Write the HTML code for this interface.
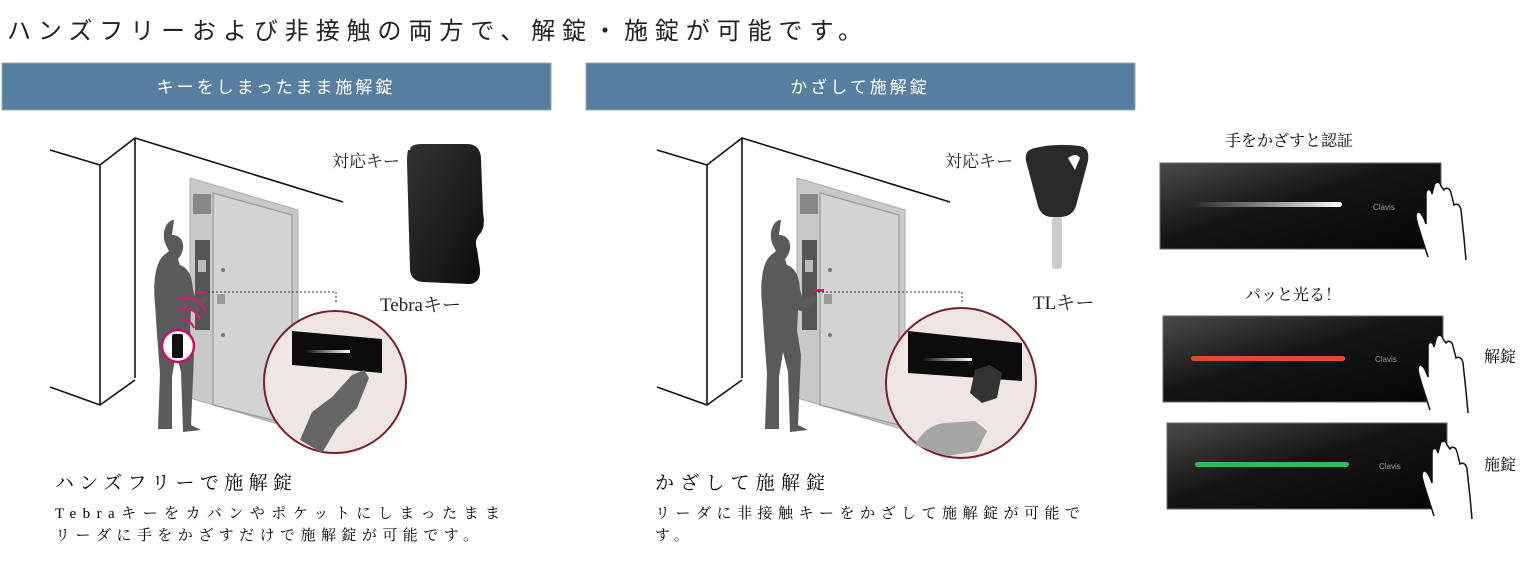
<!DOCTYPE html>
<html><head><meta charset="utf-8"><style>
html,body{margin:0;padding:0;background:#fff}
body{width:1524px;height:576px;overflow:hidden;position:relative;font-family:"Liberation Serif","Noto Serif CJK SC","Noto Sans CJK JP",serif;color:#222}
</style></head><body>
<svg width="1524" height="576" style="position:absolute;left:0;top:0" font-family="'Liberation Serif','Noto Serif CJK SC',serif">
<defs>
<linearGradient id="pg" x1="0" y1="0" x2="1" y2="1">
<stop offset="0" stop-color="#4a4a48"/><stop offset="0.45" stop-color="#151515"/><stop offset="1" stop-color="#050505"/></linearGradient>
<linearGradient id="wl" x1="0" x2="1"><stop offset="0" stop-color="#fff" stop-opacity="0"/><stop offset="1" stop-color="#fff"/></linearGradient>
<linearGradient id="kg" x1="0" y1="0" x2="1" y2="1"><stop offset="0" stop-color="#333"/><stop offset="1" stop-color="#0c0c0c"/></linearGradient>
<g id="scene">
<g stroke="#111" stroke-width="1.6" fill="none">
<polyline points="50,150 100,165 135,138 343,202"/>
<line x1="100" y1="165" x2="100" y2="405"/>
<line x1="135" y1="138" x2="135" y2="378"/>
<polyline points="50,387 100,405 135,380"/>
</g>
<polygon points="190,178 298,210 298,430 190,398" fill="#c9c9c9" stroke="#aaa"/>
<polygon points="213,193 292,215 292,425 213,405" fill="#d3d3d3" stroke="#999" stroke-width="1.2"/>
<rect x="193" y="194" width="18" height="20" fill="#888"/>
<rect x="195" y="240" width="15" height="90" fill="#555"/>
<rect x="198" y="260" width="8" height="12" fill="#bbb"/>
<rect x="217" y="294" width="8" height="10" fill="#999"/>
<circle cx="223" cy="270" r="2" fill="#777"/><circle cx="223" cy="335" r="2" fill="#777"/>
<path d="M172,235 c8,0 12,6 11,14 c-1,5 -3,8 -5,10 l2,6 c8,3 12,10 13,25 l3,10 l10,-5 l3,5 l-12,12 l-6,-2 l-1,20 l4,25 l-3,70 l10,5 l-18,2 l-2,-60 l-5,-20 l-4,25 l0,52 l-14,0 l2,-55 l-3,-40 l-2,-30 c-2,-20 0,-40 8,-48 l6,-5 c-3,-6 -6,-10 -5,-18 c1,-8 5,-13 10,-13 z" fill="#5a5a5a"/>
</g>
<g id="hand" fill="#fff" stroke="#111" stroke-width="1.5">
<path d="M0,0 l-8,-25 c-3,-10 -6,-18 -2,-20 c3,0 6,6 8,12 l0,-30 c0,-6 5,-6 6,0 l2,-8 c1,-5 6,-5 7,0 l3,4 c2,-3 6,-2 7,3 l3,12 c3,-2 6,0 7,5 l3,28 l2,22"/>
</g>
</defs>
<text x="7" y="39" font-size="24" textLength="855" lengthAdjust="spacing" fill="#222" font-family="'Liberation Sans','Noto Sans CJK JP',sans-serif">ハンズフリーおよび非接触の両方で、解錠・施錠が可能です。</text>
<rect x="2" y="63" width="549" height="47" fill="#577f9f" stroke="#9ab" />
<rect x="586" y="63" width="549" height="47" fill="#577f9f" stroke="#9ab"/>
<text x="276" y="93" font-size="17" fill="#fff" text-anchor="middle" letter-spacing="3" font-family="'Liberation Sans','Noto Sans CJK JP',sans-serif">キーをしまったまま施解錠</text>
<text x="860" y="93" font-size="17" fill="#fff" text-anchor="middle" letter-spacing="3" font-family="'Liberation Sans','Noto Sans CJK JP',sans-serif">かざして施解錠</text>

<use href="#scene"/>
<g stroke="#e0157a" stroke-width="2" fill="none">
<path d="M178,300 q18,-8 28,12"/><path d="M178,310 q16,-5 22,10"/><path d="M180,320 q10,-2 14,8"/>
</g>
<rect x="197" y="291" width="10" height="3" fill="#e0157a"/>
<circle cx="178" cy="346" r="16" fill="#fff" stroke="#c8106e" stroke-width="2.5"/>
<rect x="172" y="334" width="11" height="24" rx="2" fill="#111"/>
<path d="M208,292 H336 V302" stroke="#333" stroke-dasharray="2,2" fill="none"/>
<circle cx="335" cy="382" r="71" fill="#efe6e4" stroke="#7a1e2e" stroke-width="2"/>
<polygon points="292,331 382,339 382,373 292,365" fill="#0c0c0c"/>
<rect x="305" y="350" width="45" height="3" fill="url(#wl)"/>
<path d="M300,440 l12,-28 l20,-15 l20,-22 l12,-5 l5,8 l-12,30 l-20,20 l-15,25 z" fill="#666"/>
<g transform="translate(12,0)">
<path d="M398,150 q0,-6 12,-6 h45 q13,0 14,14 l2,55 q3,15 -4,22 q-5,6 -2,14 l3,20 q1,15 -12,15 l-45,-2 q-12,-1 -13,-12 l-3,-108 q0,-8 1,-12 z" fill="url(#kg)"/>
</g>
<text x="332" y="167" font-size="17" fill="#222">対応キー</text>
<text x="380" y="311" font-size="19" fill="#222">Tebraキー</text>
<text x="55" y="489" font-size="19" textLength="237" lengthAdjust="spacing">ハンズフリーで施解錠</text>
<text x="55" y="518" font-size="15" textLength="445" lengthAdjust="spacing">Tebraキーをカバンやポケットにしまったまま</text>
<text x="55" y="540" font-size="15" textLength="423" lengthAdjust="spacing">リーダに手をかざすだけで施解錠が可能です。</text>

<g transform="translate(607,0)"><use href="#scene"/></g>
<rect x="814" y="289" width="10" height="3" fill="#e0157a"/>
<path d="M818,292 H962 V302" stroke="#333" stroke-dasharray="2,2" fill="none"/>
<circle cx="961" cy="383" r="75" fill="#efe6e4" stroke="#7a1e2e" stroke-width="2"/>
<polygon points="908,331 1022,343 1022,381 908,373" fill="#0c0c0c"/>
<rect x="922" y="358" width="50" height="3" fill="url(#wl)"/>
<path d="M915,445 q10,-20 30,-22 l30,-2 l12,10 l-10,20 l-30,5 z" fill="#a5a5a5"/>
<path d="M975,370 l15,-5 l12,8 l-5,25 l-15,5 l-12,-10 z" fill="#333"/>
<path d="M1035,148 q20,-5 45,-2 q10,2 8,15 l-12,45 q-3,10 -15,11 h-10 q-10,-1 -13,-11 l-12,-45 q-2,-11 9,-13 z" fill="#2a2a2a"/>
<path d="M1068,158 q8,-6 12,0 l-5,12 z" fill="#fff"/>
<rect x="1052" y="217" width="10" height="52" rx="3" fill="#ccc"/>
<text x="945" y="167" font-size="17" fill="#222">対応キー</text>
<text x="1033" y="309" font-size="19" fill="#222">TLキー</text>
<text x="655" y="489" font-size="19" textLength="170" lengthAdjust="spacing">かざして施解錠</text>
<text x="655" y="518" font-size="15" textLength="425" lengthAdjust="spacing">リーダに非接触キーをかざして施解錠が可能で</text>
<text x="655" y="540" font-size="15" letter-spacing="5">す。</text>

<text x="1225" y="146" font-size="16">手をかざすと認証</text>
<text x="1245" y="300" font-size="16">パッと光る！</text>
<text x="1484" y="362" font-size="16">解錠</text>
<text x="1484" y="470" font-size="16">施錠</text>
<rect x="1160" y="163" width="281" height="86" fill="url(#pg)" stroke="#666"/>
<rect x="1190" y="202" width="152" height="5" rx="2.5" fill="url(#wl)"/>
<text x="1373" y="210" font-size="8" fill="#999" font-family="'Liberation Sans',sans-serif">Clavis</text>
<rect x="1163" y="316" width="280" height="86" fill="url(#pg)" stroke="#666"/>
<rect x="1191" y="356" width="154" height="5" rx="2.5" fill="#e04a38"/>
<text x="1375" y="362" font-size="8" fill="#999" font-family="'Liberation Sans',sans-serif">Clavis</text>
<rect x="1167" y="423" width="280" height="86" fill="url(#pg)" stroke="#666"/>
<rect x="1195" y="462" width="154" height="5" rx="2.5" fill="#3cb45a"/>
<text x="1379" y="469" font-size="8" fill="#999" font-family="'Liberation Sans',sans-serif">Clavis</text>
<use href="#hand" transform="translate(1428,257)"/>
<use href="#hand" transform="translate(1430,410)"/>
<use href="#hand" transform="translate(1434,516)"/>
</svg>
</body></html>
